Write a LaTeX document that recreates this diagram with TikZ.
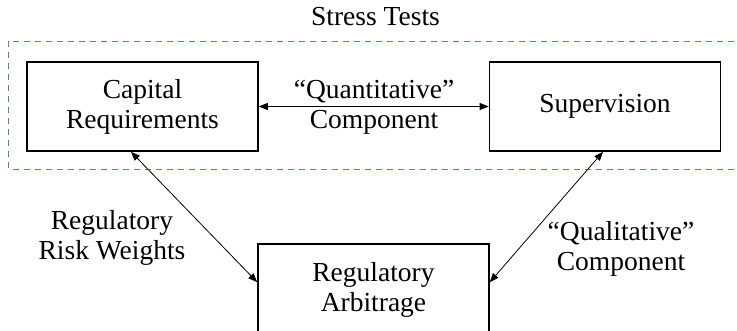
\documentclass[tikz,border=0pt]{standalone}
\usepackage{fontspec}
\setmainfont{Liberation Serif}
\usepackage{tikz}
\usetikzlibrary{arrows.meta,positioning}
\usepackage{xcolor}
\definecolor{testblue}{HTML}{4F81BD}

\tikzset{
  blockbox/.style={draw,line width=1.6pt,minimum width=231pt,minimum height=89pt,align=center,inner sep=0pt},
  link/.style={{Triangle[length=9pt,width=7pt]}-{Triangle[length=9pt,width=7pt]},line width=0.8pt},
  tag/.style={align=center}
}

\begin{document}
\begin{tikzpicture}[x=1pt,y=-1pt,every node/.style={font=\fontsize{27.5}{30}\selectfont}]
\useasboundingbox (0,0) rectangle (737,331);
\clip (0,0) rectangle (737,331);
% stress test frame
\draw[testblue,line width=1.8pt,dash pattern=on 6pt off 5pt] (8.5,41.5) rectangle (760,169.5);
\node (title) at (375.5,17) {Stress Tests};
% blocks
\node[blockbox] (cap) at (142.5,106.5) {Capital\\Requirements};
\node[blockbox] (sup) at (605,106.5) {Supervision};
\node[blockbox,minimum height=92pt] (arb) at (373.5,290) {Regulatory\\Arbitrage};
% links
\draw[link] (cap.east) -- (sup.west);
\draw[link] ([xshift=-11.5pt]cap.south) -- ([yshift=-39pt]arb.north west);
\draw[link] ([xshift=-2pt]sup.south) -- ([yshift=-39pt]arb.north east);
\node[tag] (quant) at (374,107) {``Quantitative''\\Component};
\node[tag] (risk) at (112,238) {Regulatory\\Risk Weights};
\node[tag] (qual) at (621,249) {``Qualitative''\\Component};
\end{tikzpicture}
\end{document}
